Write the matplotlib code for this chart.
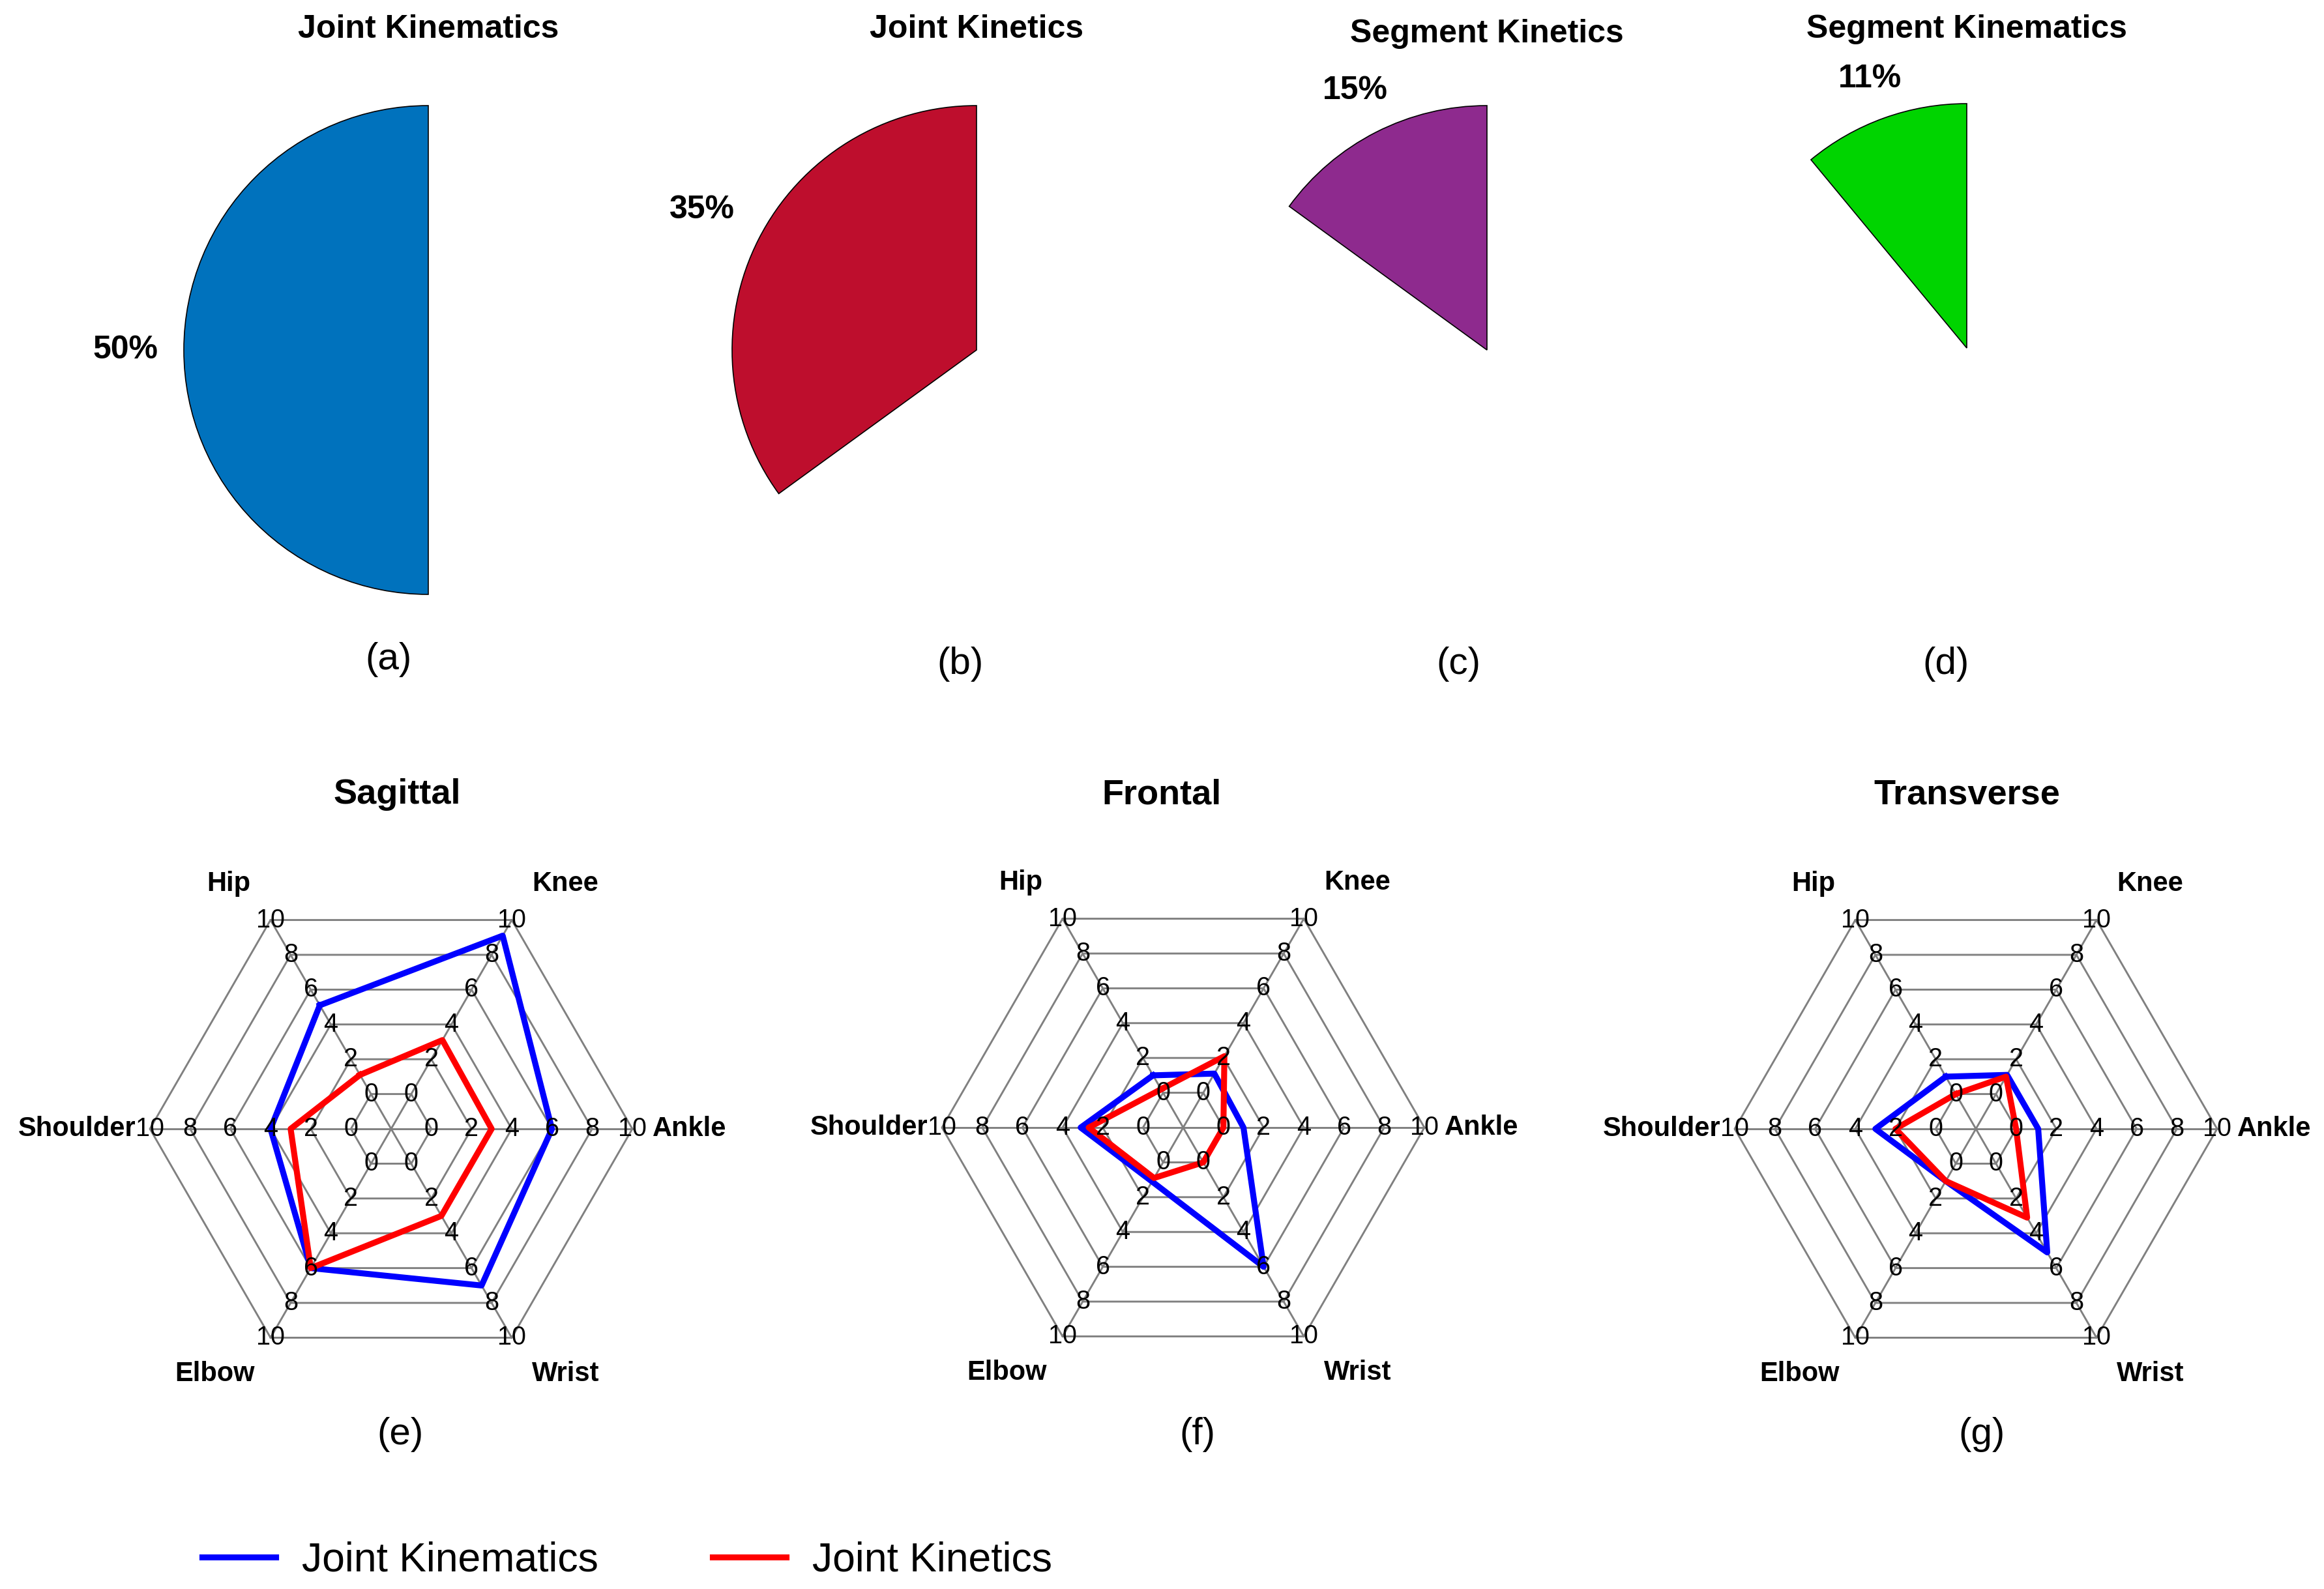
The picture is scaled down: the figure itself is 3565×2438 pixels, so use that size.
import numpy as np
import matplotlib
matplotlib.use("Agg")
import matplotlib.pyplot as plt

plt.rcParams['font.family'] = ['Liberation Sans', 'DejaVu Sans']

# pie data (fraction of studies)
pie_titles = ['Joint Kinematics', 'Joint Kinetics', 'Segment Kinetics', 'Segment Kinematics']
pie_values = [0.50, 0.35, 0.15, 0.11]
pie_colors = ['#0072BD', '#BE0E2D', '#8E2A8E', '#00D400']
pie_tags = ['(a)', '(b)', '(c)', '(d)']

# radar data
joints = ['Hip', 'Knee', 'Ankle', 'Wrist', 'Elbow', 'Shoulder']
joint_angles = [120, 60, 0, 300, 240, 180]
planes = ['Sagittal', 'Frontal', 'Transverse']
radar_tags = ['(e)', '(f)', '(g)']
kinematics = {
    'Sagittal':   [5.1, 9.1, 6.0, 7.0, 6.0, 4.0],
    'Frontal':    [1.0, 1.1, 1.0, 6.0, 1.1, 3.1],
    'Transverse': [1.0, 1.1, 1.1, 5.1, 1.0, 3.0],
}
kinetics = {
    'Sagittal':   [1.1, 3.1, 3.0, 3.0, 6.0, 3.0],
    'Frontal':    [0.2, 2.1, 0.0, 0.0, 0.9, 2.7],
    'Transverse': [0.0, 1.0, 0.0, 3.1, 1.0, 2.0],
}
ticks = [0, 2, 4, 6, 8, 10]
offset = 2  # radial axis starts at -2

W, H = 3565, 2438
fig = plt.figure(figsize=(W / 300, H / 300), dpi=300)


def fx(px):
    return px / W


def fy(py):
    return 1 - py / H


def add_panel(cx, cy, half_px, lim):
    w = 2 * half_px / W
    h = 2 * half_px / H
    ax = fig.add_axes([fx(cx) - w / 2, fy(cy) - h / 2, w, h])
    ax.patch.set_visible(False)
    return ax, lim


# ---- pies ----
pie_centers = [(657, 537), (1498, 537), (2281, 537), (3017, 534)]
pie_title_pos = [(657, 45), (1498, 45), (2281, 52), (3017, 45)]
pie_tag_pos = [(596, 1012), (1473, 1019), (2237, 1019), (2985, 1019)]
pct_dist = [1.24, 1.26, 1.19, 1.17]

for i in range(4):
    ax, lim = add_panel(pie_centers[i][0], pie_centers[i][1], 600, 1.6)
    ax.pie([pie_values[i]], colors=[pie_colors[i]], normalize=False,
           startangle=90, counterclock=True, autopct='%1.0f%%',
           pctdistance=pct_dist[i],
           wedgeprops=dict(edgecolor='black', linewidth=0.4),
           textprops=dict(fontsize=12, fontweight='bold'))
    ax.set_xlim(-lim, lim)
    ax.set_ylim(-lim, lim)
    ax.set_aspect('equal')
    ax.axis('off')
    fig.text(fx(pie_title_pos[i][0]), fy(pie_title_pos[i][1]), pie_titles[i],
             ha='center', va='center', fontsize=12, fontweight='bold')
    fig.text(fx(pie_tag_pos[i][0]), fy(pie_tag_pos[i][1]), pie_tags[i],
             ha='center', va='center', fontsize=14)

# ---- radars ----
radar_centers = [(600, 1732), (1815, 1730), (3031, 1732)]
radar_title_pos = [(609, 1219), (1782, 1219), (3017, 1219)]
radar_tag_pos = [(614, 2201), (1837, 2201), (3040, 2201)]
label_pos = {
    'Hip': (-7.0, 12.2, 'right'),
    'Knee': (7.0, 12.2, 'left'),
    'Ankle': (13.0, 0.0, 'left'),
    'Wrist': (7.0, -12.2, 'left'),
    'Elbow': (-6.8, -12.2, 'right'),
    'Shoulder': (-12.7, 0.0, 'right'),
}

rmax = ticks[-1] + offset
px_per_unit = 370 / rmax
theta = np.deg2rad(joint_angles + [joint_angles[0]])

handles = None
for k, plane in enumerate(planes):
    cx, cy = radar_centers[k]
    ax, lim = add_panel(cx, cy, 520, 520 / px_per_unit)

    # hexagonal grid and spokes
    ring = np.deg2rad(np.arange(0, 361, 60))
    for t in ticks:
        r = t + offset
        ax.plot(r * np.cos(ring), r * np.sin(ring), color='0.5', lw=0.7, zorder=1)
    for a in joint_angles:
        ax.plot([0, rmax * np.cos(np.deg2rad(a))], [0, rmax * np.sin(np.deg2rad(a))],
                color='0.5', lw=0.7, zorder=1)
    for a in joint_angles:
        for t in ticks:
            r = t + offset
            ax.text(r * np.cos(np.deg2rad(a)), r * np.sin(np.deg2rad(a)), str(t),
                    ha='center', va='center', fontsize=9.5, zorder=5)

    kin = np.array(kinematics[plane] + [kinematics[plane][0]]) + offset
    kit = np.array(kinetics[plane] + [kinetics[plane][0]]) + offset
    l1, = ax.plot(kin * np.cos(theta), kin * np.sin(theta), color='#0000FF', lw=2.2,
                  zorder=3, label='Joint Kinematics')
    l2, = ax.plot(kit * np.cos(theta), kit * np.sin(theta), color='#FF0000', lw=2.2,
                  zorder=3, label='Joint Kinetics')
    if handles is None:
        handles = [l1, l2]

    for j in joints:
        x, y, ha = label_pos[j]
        ax.text(x, y, j, ha=ha, va='center', fontsize=10, fontweight='bold')

    ax.set_xlim(-lim, lim)
    ax.set_ylim(-lim, lim)
    ax.axis('off')

    fig.text(fx(radar_title_pos[k][0]), fy(radar_title_pos[k][1]), plane,
             ha='center', va='center', fontsize=13, fontweight='bold')
    fig.text(fx(radar_tag_pos[k][0]), fy(radar_tag_pos[k][1]), radar_tags[k],
             ha='center', va='center', fontsize=14)

fig.legend(handles=handles, labels=['Joint Kinematics', 'Joint Kinetics'],
           loc='center left', bbox_to_anchor=(fx(310), fy(2394)), ncol=2,
           frameon=False, fontsize=15, handlelength=1.8, handletextpad=0.65,
           columnspacing=2.8, borderpad=0, borderaxespad=0)

fig.savefig('out.png', dpi=300)
